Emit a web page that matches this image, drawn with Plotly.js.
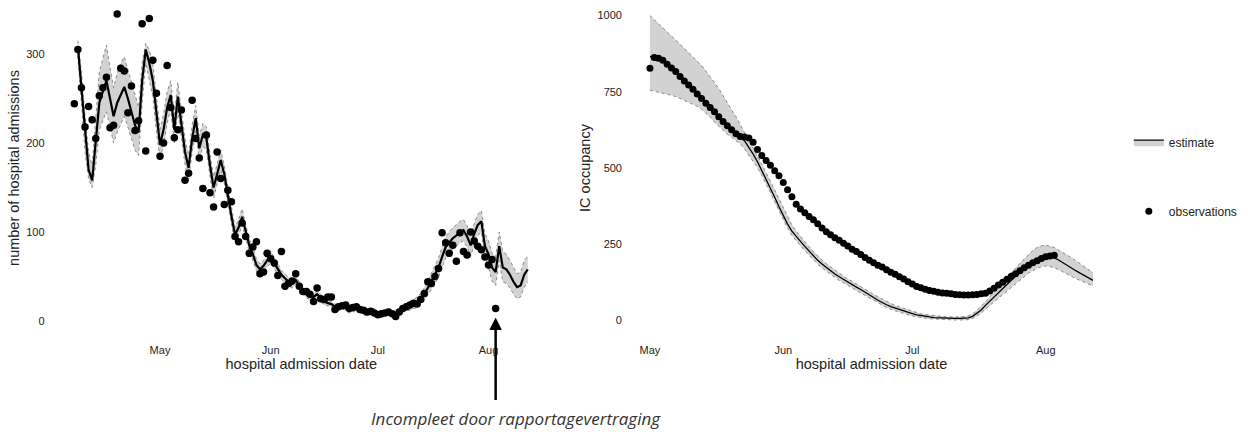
<!DOCTYPE html>
<html>
<head>
<meta charset="utf-8">
<script src="https://cdn.plot.ly/plotly-3.0.1.min.js"></script>
<style>
  html, body { margin: 0; padding: 0; background: #ffffff; }
  #chart { width: 1248px; height: 432px; }
</style>
</head>
<body>
<div id="chart"></div>
<script>
// ---------------- data ----------------
// Left panel: hospital admissions (daily)
const leftObsStart = '2020-04-07';
const leftObs = [
  244,305,262,218,241,226,205,253,262,274,217,220,345,284,281,234,264,214,225,334,191,340,293,256,
  185,200,287,240,206,215,237,158,166,248,
  205,183,149,209,144,128,190,160,131,147,
  134,95,89,110,95,76,83,89,53,55,
  76,70,65,51,78,39,42,45,53,39,
  33,33,30,22,37,25,24,27,27,13,
  16,17,18,14,15,16,13,12,10,11,
  9,7,8,9,10,8,5,10,14,16,
  18,20,19,24,31,44,42,50,59,99,
  88,76,85,67,99,78,74,100,90,84,
  80,72,63,69,14
];
const leftEstStart = '2020-04-08';
const leftEst = [
  308,260,210,170,158,200,245,258,270,250,230,245,255,263,250,235,220,212,270,305,290,270,230,
  198,215,240,254,215,252,220,190,172,205,
  228,194,209,205,175,150,165,181,165,140,
  118,97,105,117,100,85,75,63,58,62,
  68,72,65,58,52,48,44,42,46,40,
  34,30,28,27,30,26,22,20,19,16,
  15,17,14,12,13,15,12,10,9,10,
  11,8,7,8,10,9,8,11,14,16,
  17,19,21,25,30,37,45,52,60,72,
  83,88,93,96,100,102,95,85,98,108,
  112,84,75,60,55,84,60,58,52,44,
  38,40,52,58
];
const leftUpper = [
  315,280,230,190,175,230,280,295,310,285,262,278,290,297,282,268,252,240,290,312,305,288,252,
  215,232,258,270,232,268,236,205,186,220,
  242,208,222,218,188,162,176,192,175,150,
  127,105,114,126,108,92,82,70,64,68,
  75,79,71,64,57,53,49,47,51,44,
  38,34,32,31,34,30,26,23,22,19,
  18,20,17,15,16,18,15,13,12,13,
  14,11,10,11,13,12,11,14,18,20,
  22,24,27,31,37,45,54,62,71,84,
  95,100,105,108,112,114,107,98,110,120,
  124,98,90,76,72,100,78,75,68,60,
  53,55,68,73
];
const leftLower = [
  298,240,190,160,150,175,215,225,235,218,200,212,222,230,218,205,192,186,245,290,272,252,212,
  182,198,222,238,200,236,204,176,158,190,
  214,180,196,192,162,138,154,170,155,130,
  109,89,96,108,92,78,68,56,52,56,
  61,65,59,52,47,43,39,37,41,36,
  30,26,24,23,26,22,18,17,16,13,
  12,14,11,9,10,12,9,7,6,7,
  8,5,4,5,7,6,5,8,10,12,
  12,14,15,19,23,29,36,42,49,60,
  71,76,81,84,88,90,83,73,86,96,
  100,70,60,45,40,68,44,42,37,30,
  25,27,38,44
];

// Right panel: IC occupancy (daily)
const rightObsStart = '2020-05-01';
const rightObs = [
  827,862,860,853,840,828,816,800,785,772,
  758,742,728,712,698,684,668,652,638,625,
  612,603,601,598,584,560,540,524,508,490,
  474,452,428,405,380,365,352,340,329,316,
  302,290,280,270,262,252,243,232,225,215,
  205,196,188,180,174,165,157,150,142,135,
  126,118,110,106,101,97,94,91,89,88,
  86,84,83,82,82,83,84,86,88,95,
  104,115,124,134,144,152,162,172,180,188,
  195,202,208,210,213
];
const rightEstStart = '2020-05-01';
const rightEst = [
  866,862,856,849,840,830,818,805,790,776,
  762,748,733,718,702,686,670,653,637,622,
  610,602,588,568,545,520,492,463,433,403,
  372,343,315,292,274,258,242,226,210,196,
  184,172,161,151,142,133,124,116,108,100,
  92,83,74,65,57,50,44,39,34,30,
  25,21,17,14,12,10,8,7,6,5,
  5,5,5,5,7,12,22,33,48,62,
  76,90,102,116,130,144,158,170,182,192,
  200,205,208,208,204,197,188,178,170,162,
  154,146,138,130
];
const rightUpper = [
  1000,987,974,960,946,933,920,906,892,878,
  864,850,836,818,800,780,760,735,712,690,
  668,640,615,590,565,540,512,484,455,428,
  398,368,338,312,292,274,257,241,225,210,
  197,185,174,163,153,144,135,127,119,110,
  102,93,84,76,68,60,54,48,43,38,
  33,28,24,20,18,16,14,12,11,10,
  10,10,10,11,14,20,31,44,60,76,
  92,108,122,138,154,170,186,200,214,228,
  238,244,246,243,238,230,222,213,204,195,
  185,175,165,155
];
const rightLower = [
  755,752,748,745,741,738,734,728,722,715,
  708,702,692,680,666,650,636,622,610,600,
  590,578,562,542,522,500,475,448,418,388,
  358,330,302,278,260,244,228,212,196,183,
  171,160,149,139,130,122,113,105,97,89,
  81,73,64,55,47,41,35,30,26,22,
  17,13,10,8,6,4,3,2,1,0,
  0,0,0,0,1,5,13,22,36,48,
  60,72,84,96,108,120,132,143,154,162,
  170,175,178,176,172,166,158,150,142,136,
  130,124,118,112
];

// Axis ticks and labels
const monthTicks = ['2020-05-01', '2020-06-01', '2020-07-01', '2020-08-01'];
const monthLabels = ['May', 'Jun', 'Jul', 'Aug'];
const leftYTicks = [0, 100, 200, 300];
const rightYTicks = [0, 250, 500, 750, 1000];
const lastObsDate = '2020-08-03';

// ---------------- helpers ----------------
function dailyDates(start, n) {
  const t0 = Date.parse(start + 'T00:00:00Z');
  const out = [];
  for (let i = 0; i < n; i++) out.push(new Date(t0 + i * 864e5).toISOString().slice(0, 10));
  return out;
}
function offsetFromMay1(days) {
  const t = Date.UTC(2020, 4, 1) + days * 864e5;
  return new Date(t).toISOString().replace('T', ' ').slice(0, 19);
}

const leftObsX = dailyDates(leftObsStart, leftObs.length);
const leftEstX = dailyDates(leftEstStart, leftEst.length);
const rightObsX = dailyDates(rightObsStart, rightObs.length);
const rightEstX = dailyDates(rightEstStart, rightEst.length);

const bandFill = '#d2d2d2';
const edgeLine = { color: '#8a8a8a', width: 1, dash: 'dot' };

const traces = [
  // ---- left panel ----
  { x: leftEstX, y: leftLower, type: 'scatter', mode: 'lines', line: edgeLine,
    xaxis: 'x', yaxis: 'y', showlegend: false, hoverinfo: 'skip' },
  { x: leftEstX, y: leftUpper, type: 'scatter', mode: 'lines', line: edgeLine,
    fill: 'tonexty', fillcolor: bandFill,
    xaxis: 'x', yaxis: 'y', showlegend: false, hoverinfo: 'skip' },
  { x: leftEstX, y: leftEst, type: 'scatter', mode: 'lines',
    line: { color: '#000000', width: 2.2 },
    xaxis: 'x', yaxis: 'y', showlegend: false },
  { x: leftObsX, y: leftObs, type: 'scatter', mode: 'markers',
    marker: { color: '#000000', size: 7.5 },
    xaxis: 'x', yaxis: 'y', showlegend: false },

  // ---- right panel ----
  { x: rightEstX, y: rightLower, type: 'scatter', mode: 'lines', line: edgeLine,
    xaxis: 'x2', yaxis: 'y2', showlegend: false, hoverinfo: 'skip' },
  { x: rightEstX, y: rightUpper, type: 'scatter', mode: 'lines', line: edgeLine,
    fill: 'tonexty', fillcolor: bandFill,
    xaxis: 'x2', yaxis: 'y2', showlegend: false, hoverinfo: 'skip' },
  { x: rightEstX, y: rightEst, type: 'scatter', mode: 'lines', name: 'estimate',
    line: { color: '#000000', width: 1.3 },
    fill: 'tonexty', fillcolor: bandFill,
    legendgroup: 'est', xaxis: 'x2', yaxis: 'y2', showlegend: true },
  { x: rightObsX, y: rightObs, type: 'scatter', mode: 'markers', name: 'observations',
    marker: { color: '#000000', size: 7 },
    legendgroup: 'obs', xaxis: 'x2', yaxis: 'y2', showlegend: true }
];

const tickFont = { family: 'Liberation Sans, Arial, sans-serif', size: 11, color: '#222222' };
const titleFont = { family: 'Liberation Sans, Arial, sans-serif', size: 14.5, color: '#222222' };

const layout = {
  width: 1248,
  height: 432,
  margin: { l: 0, r: 0, t: 0, b: 96 },
  paper_bgcolor: '#ffffff',
  plot_bgcolor: '#ffffff',
  font: tickFont,
  xaxis: {
    domain: [0.04135, 0.4415],
    type: 'date',
    range: [offsetFromMay1(-30.36), offsetFromMay1(109.5)],
    tickvals: monthTicks, ticktext: monthLabels,
    showgrid: false, zeroline: false, showline: false,
    ticks: '', ticklabelstandoff: 6,
    tickfont: tickFont,
    title: { text: 'hospital admission date', font: titleFont, standoff: 2 }
  },
  yaxis: {
    domain: [0, 1],
    range: [-16.9, 360.7],
    tickvals: leftYTicks,
    showgrid: false, zeroline: false, showline: false,
    ticks: '', ticklabelstandoff: 6,
    tickfont: tickFont,
    title: { text: 'number of hospital admissions', font: titleFont, standoff: 3 }
  },
  xaxis2: {
    domain: [0.5032, 0.8934],
    anchor: 'y2',
    type: 'date',
    range: [offsetFromMay1(-5.1), offsetFromMay1(108.1)],
    tickvals: monthTicks, ticktext: monthLabels,
    showgrid: false, zeroline: false, showline: false,
    ticks: '', ticklabelstandoff: 6,
    tickfont: tickFont,
    title: { text: 'hospital admission date', font: titleFont, standoff: 2 }
  },
  yaxis2: {
    domain: [0, 1],
    anchor: 'x2',
    range: [-52.6, 1051.2],
    tickvals: rightYTicks,
    showgrid: false, zeroline: false, showline: false,
    ticks: '', ticklabelstandoff: 5,
    tickfont: tickFont,
    title: { text: 'IC occupancy', font: titleFont, standoff: 3 }
  },
  showlegend: true,
  legend: {
    x: 0.9045, xanchor: 'left',
    y: 0.62, yanchor: 'top',
    bgcolor: 'rgba(0,0,0,0)',
    font: { family: 'Liberation Sans, Arial, sans-serif', size: 12, color: '#222222' },
    traceorder: 'grouped',
    tracegroupgap: 50
  },
  annotations: [
    {
      xref: 'x', yref: 'y', x: lastObsDate, y: 4,
      axref: 'pixel', ayref: 'pixel', ax: 0, ay: 84,
      text: '', showarrow: true,
      arrowhead: 2, arrowsize: 1, arrowwidth: 2.5, arrowcolor: '#000000'
    },
    {
      xref: 'paper', yref: 'paper', x: 516 / 1248, y: (336 - 418) / 336,
      xanchor: 'center', yanchor: 'middle',
      text: '<i>Incompleet door rapportagevertraging</i>',
      showarrow: false,
      font: { family: 'Open Sans, sans-serif', size: 17, color: '#333333' }
    }
  ]
};

Plotly.newPlot('chart', traces, layout, { displayModeBar: false, responsive: false, staticPlot: true });
</script>
</body>
</html>
